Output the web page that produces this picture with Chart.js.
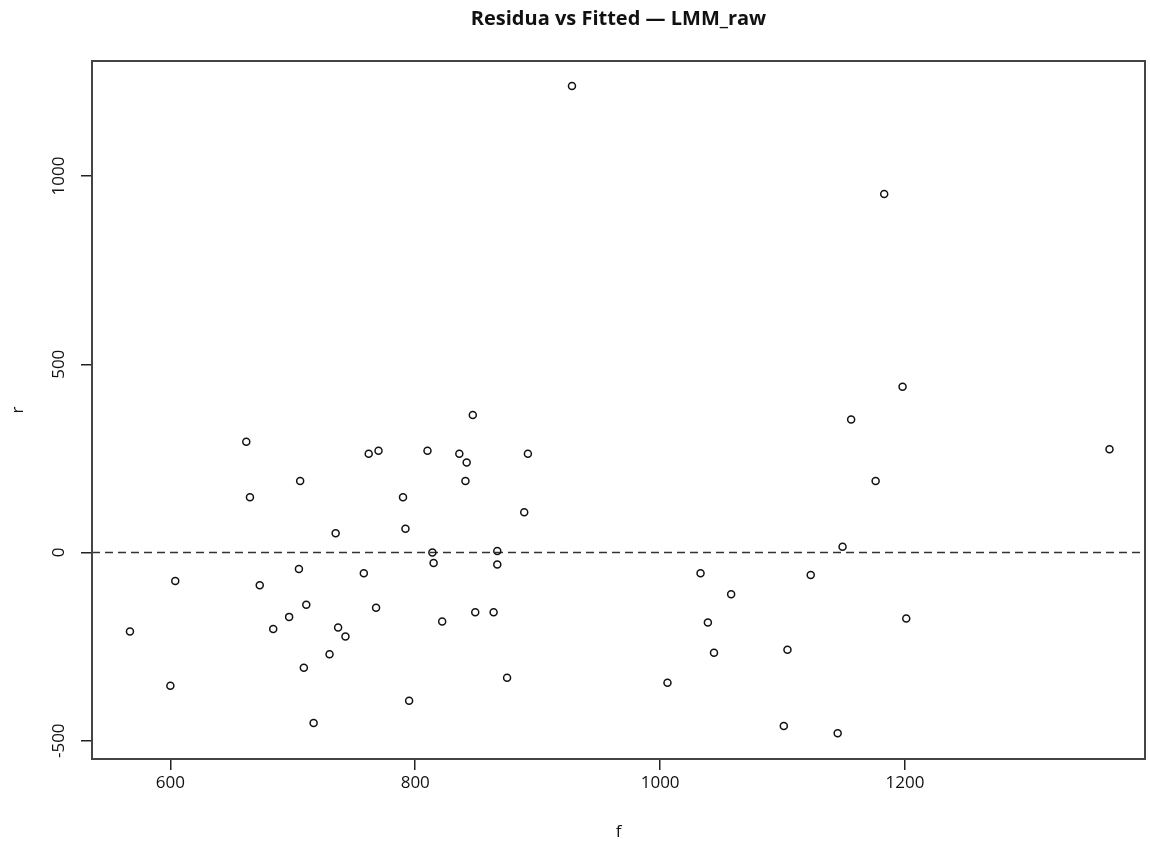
<!DOCTYPE html>
<html>
<head>
<meta charset="utf-8">
<script src="https://cdn.jsdelivr.net/npm/chart.js@4"></script>
<style>
	html, body { margin: 0; padding: 0; background: #fff; }
	canvas { display: block; }
</style>
</head>
<body>
<canvas id="chart" width="1150" height="850"></canvas>
<script>
"use strict";

// fitted values (f) and residuals (r)
const fitted = [
	662, 762, 770, 706, 665, 735, 705, 758, 604, 673,
	711, 768, 697, 684, 737, 743, 567, 730, 709, 600,
	717, 847, 810, 836, 842, 892, 841, 790, 889, 792,
	814, 867, 815, 867, 849, 864, 822, 875, 795, 1006,
	928, 1183, 1198, 1156, 1176, 1149, 1033, 1123, 1058, 1039,
	1201, 1104, 1044, 1101, 1145, 1367,
];
const resid = [
	294, 262, 270, 190, 147, 51, -44, -55, -76, -87,
	-139, -147, -171, -203, -199, -223, -210, -270, -306, -354,
	-453, 365, 270, 262, 239, 262, 190, 147, 107, 63,
	0, 4, -28, -32, -159, -159, -183, -333, -394, -346,
	1239, 952, 440, 353, 190, 15, -55, -60, -111, -186,
	-175, -258, -266, -461, -480, 274,
];

const xTicks = [600, 800, 1000, 1200];
const yTicks = [-500, 0, 500, 1000];
const xRange = [536, 1396];
const yRange = [-548.5, 1305.5];
const refLine = 0;

const titleText = "Residua vs Fitted \u2014 LMM_raw";
const xLabel = "f";
const yLabel = "r";

const points = fitted.map((f, i) => ({ x: f, y: resid[i] }));

const fontFamily = "'Open Sans', 'Liberation Sans', sans-serif";

const plotDecor = {
	id: "plotDecor",
	beforeDraw(chart) {
		const ctx = chart.ctx;
		ctx.save();
		ctx.fillStyle = "#fff";
		ctx.fillRect(0, 0, chart.width, chart.height);
		ctx.restore();
	},
	beforeDatasetsDraw(chart) {
		// dashed reference line at r = 0
		const { ctx, chartArea } = chart;
		const y = chart.scales.y.getPixelForValue(refLine);
		ctx.save();
		ctx.strokeStyle = "#333";
		ctx.lineWidth = 1.5;
		ctx.setLineDash([8, 5]);
		ctx.beginPath();
		ctx.moveTo(chartArea.left, y);
		ctx.lineTo(chartArea.right, y);
		ctx.stroke();
		ctx.restore();
	},
	afterDraw(chart) {
		const { ctx, chartArea } = chart;
		ctx.save();
		// box round the plot
		ctx.strokeStyle = "#444";
		ctx.lineWidth = 2;
		ctx.strokeRect(chartArea.left, chartArea.top, chartArea.right - chartArea.left, chartArea.bottom - chartArea.top);
		// main title
		ctx.fillStyle = "#111";
		ctx.font = `bold 20px ${fontFamily}`;
		ctx.textAlign = "center";
		ctx.textBaseline = "middle";
		ctx.fillText(titleText, (chartArea.left + chartArea.right) / 2, 19);
		ctx.restore();
	},
};

const plainTick = value => String(value);

new Chart(document.getElementById("chart"), {
	type: "scatter",
	data: {
		datasets: [
			{
				label: "residuals",
				data: points,
				pointStyle: "circle",
				pointRadius: 3.5,
				pointHoverRadius: 3.5,
				borderWidth: 1.5,
				borderColor: "#111",
				backgroundColor: "rgba(0,0,0,0)",
			},
		],
	},
	options: {
		responsive: false,
		animation: false,
		layout: {
			padding: { top: 61, right: 2, left: 0, bottom: 0 },
		},
		plugins: {
			legend: { display: false },
			tooltip: { enabled: false },
			title: { display: false },
		},
		scales: {
			x: {
				type: "linear",
				min: xRange[0],
				max: xRange[1],
				afterBuildTicks: scale => {
					scale.ticks = xTicks.map(v => ({ value: v }));
				},
				afterFit: scale => {
					scale.height = 91;
				},
				border: { display: false },
				grid: {
					drawOnChartArea: false,
					drawTicks: true,
					tickLength: 11,
					tickColor: "#222",
					lineWidth: 1.5,
				},
				ticks: {
					color: "#111",
					font: { family: fontFamily, size: 17 },
					padding: 3,
					maxRotation: 0,
					minRotation: 0,
					callback: plainTick,
				},
				title: {
					display: true,
					text: xLabel,
					color: "#111",
					font: { family: fontFamily, size: 17 },
					padding: { top: 0, bottom: 8 },
				},
			},
			y: {
				type: "linear",
				min: yRange[0],
				max: yRange[1],
				afterBuildTicks: scale => {
					scale.ticks = yTicks.map(v => ({ value: v }));
				},
				afterFit: scale => {
					scale.width = 92;
				},
				border: { display: false },
				grid: {
					drawOnChartArea: false,
					drawTicks: true,
					tickLength: 11,
					tickColor: "#222",
					lineWidth: 1.5,
				},
				ticks: {
					color: "#111",
					font: { family: fontFamily, size: 17 },
					padding: 2,
					minRotation: 90,
					maxRotation: 90,
					crossAlign: "center",
					callback: plainTick,
				},
				title: {
					display: true,
					text: yLabel,
					color: "#111",
					font: { family: fontFamily, size: 17 },
					padding: { top: 8, bottom: 0 },
				},
			},
		},
	},
	plugins: [plotDecor],
});
</script>
</body>
</html>
